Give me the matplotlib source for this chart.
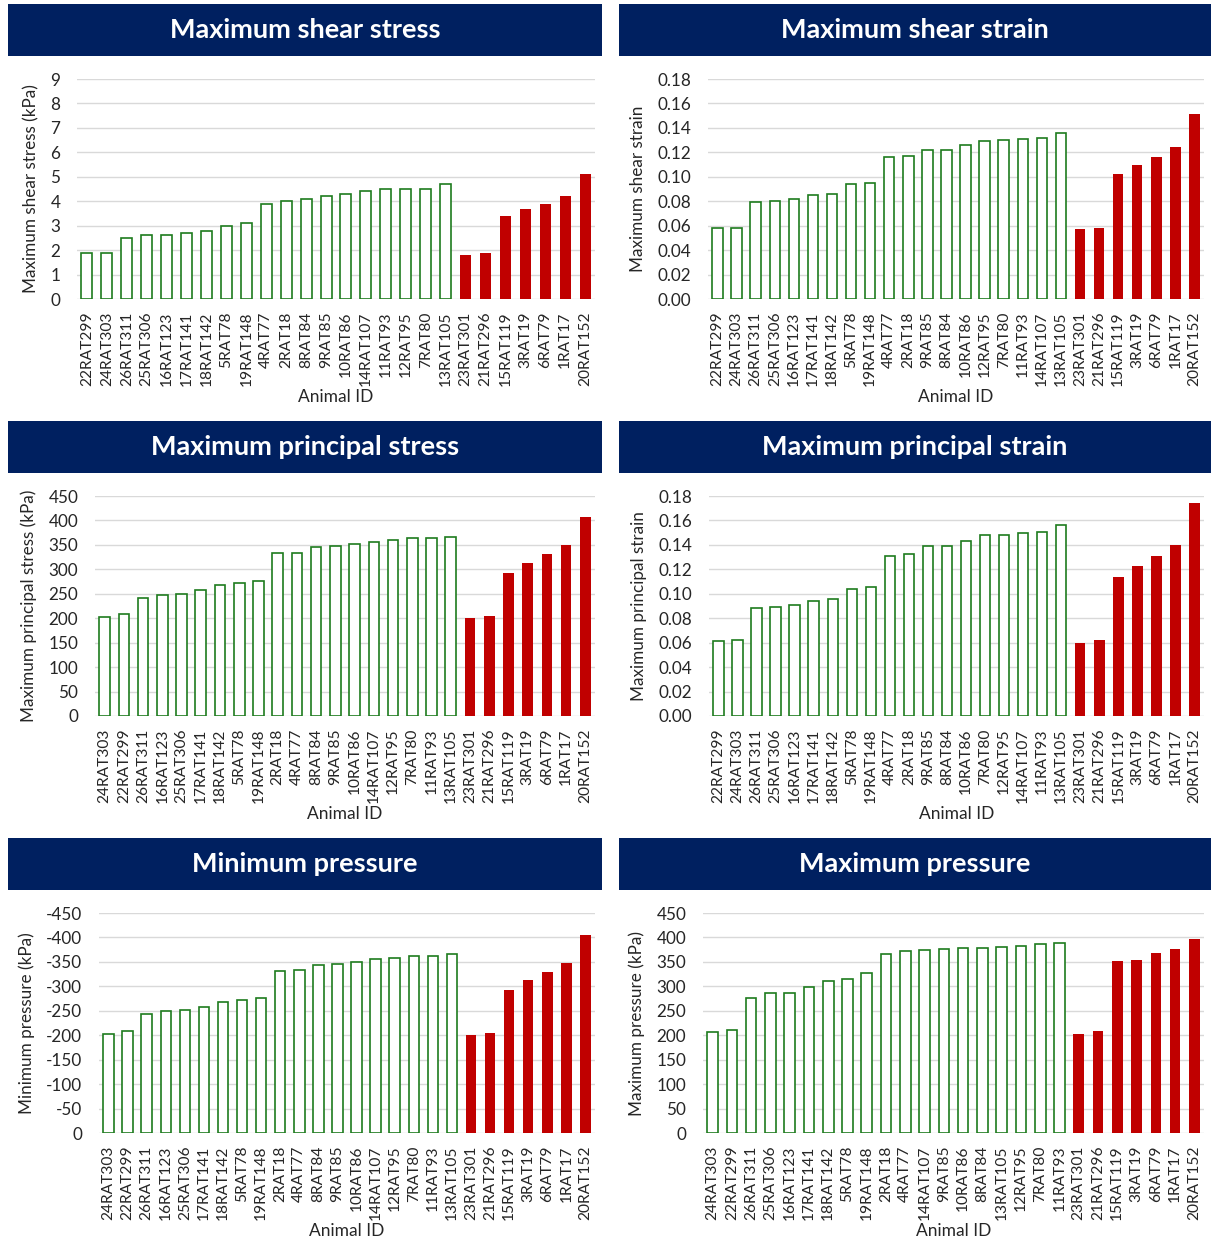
import numpy as np
from matplotlib import pyplot as plt
from matplotlib.ticker import FormatStrFormatter

plt.rcParams['font.family'] = ['Lato', 'DejaVu Sans']
plt.rcParams['axes.unicode_minus'] = False

# %%
# data
red_ids = ["23RAT301", "21RAT296", "15RAT119", "3RAT19", "6RAT79", "1RAT17", "20RAT152"]

shear_stress_ids = ["22RAT299", "24RAT303", "26RAT311", "25RAT306", "16RAT123", "17RAT141", "18RAT142",
                    "5RAT78", "19RAT148", "4RAT77", "2RAT18", "8RAT84", "9RAT85", "10RAT86", "14RAT107",
                    "11RAT93", "12RAT95", "7RAT80", "13RAT105"]
shear_stress_green = [1.9, 1.9, 2.5, 2.6, 2.6, 2.7, 2.8, 3.0, 3.1, 3.9, 4.0, 4.1, 4.2, 4.3, 4.4, 4.5, 4.5, 4.5, 4.7]
shear_stress_red = [1.8, 1.9, 3.4, 3.7, 3.9, 4.2, 5.1]

shear_strain_ids = ["22RAT299", "24RAT303", "26RAT311", "25RAT306", "16RAT123", "17RAT141", "18RAT142",
                    "5RAT78", "19RAT148", "4RAT77", "2RAT18", "9RAT85", "8RAT84", "10RAT86", "12RAT95",
                    "7RAT80", "11RAT93", "14RAT107", "13RAT105"]
shear_strain_green = [0.058, 0.058, 0.079, 0.080, 0.082, 0.085, 0.086, 0.094, 0.095, 0.116, 0.117, 0.122,
                      0.122, 0.126, 0.129, 0.130, 0.131, 0.132, 0.136]
shear_strain_red = [0.057, 0.058, 0.102, 0.110, 0.116, 0.124, 0.151]

princ_stress_ids = ["24RAT303", "22RAT299", "26RAT311", "16RAT123", "25RAT306", "17RAT141", "18RAT142",
                    "5RAT78", "19RAT148", "2RAT18", "4RAT77", "8RAT84", "9RAT85", "10RAT86", "14RAT107",
                    "12RAT95", "7RAT80", "11RAT93", "13RAT105"]
princ_stress_green = [203, 209, 242, 248, 250, 257, 268, 273, 277, 333, 334, 345, 347, 351, 356, 359, 364, 364, 367]
princ_stress_red = [201, 205, 293, 313, 331, 349, 408]

princ_strain_ids = ["22RAT299", "24RAT303", "26RAT311", "25RAT306", "16RAT123", "17RAT141", "18RAT142",
                    "5RAT78", "19RAT148", "4RAT77", "2RAT18", "9RAT85", "8RAT84", "10RAT86", "7RAT80",
                    "12RAT95", "14RAT107", "11RAT93", "13RAT105"]
princ_strain_green = [0.0615, 0.062, 0.0885, 0.0895, 0.091, 0.0945, 0.096, 0.104, 0.1055, 0.131, 0.1325,
                      0.1395, 0.1395, 0.1435, 0.148, 0.148, 0.150, 0.1505, 0.156]
princ_strain_red = [0.060, 0.062, 0.114, 0.123, 0.131, 0.140, 0.1745]

min_press_ids = princ_stress_ids
min_press_green = [-203, -208, -243, -249, -251, -257, -268, -273, -277, -332, -333, -344, -345, -350, -355,
                   -358, -362, -362, -366]
min_press_red = [-200, -205, -292, -312, -330, -348, -406]

max_press_ids = ["24RAT303", "22RAT299", "26RAT311", "25RAT306", "16RAT123", "17RAT141", "18RAT142",
                 "5RAT78", "19RAT148", "2RAT18", "4RAT77", "14RAT107", "9RAT85", "10RAT86", "8RAT84",
                 "13RAT105", "12RAT95", "7RAT80", "11RAT93"]
max_press_green = [207, 210, 276, 286, 286, 299, 310, 316, 327, 366, 373, 375, 377, 379, 379, 380, 382, 386, 388]
max_press_red = [203, 208, 352, 353, 368, 376, 396]

# %%
W, H = 1211, 1245
navy = "#002060"
green = "#1E7B1E"
red = "#C00000"
txt = "#262626"

fig = plt.figure(figsize=(W / 100, H / 100), dpi=100)


def px_rect(x0, y0, x1, y1):
    # pixel box (top-left origin) -> figure fraction
    return [x0 / W, 1 - y1 / H, (x1 - x0) / W, (y1 - y0) / H]


def banner(x0, y0, x1, y1, title):
    bax = fig.add_axes(px_rect(x0, y0, x1, y1))
    bax.set_facecolor(navy)
    bax.set_xticks([])
    bax.set_yticks([])
    for s in bax.spines.values():
        s.set_visible(False)
    bax.text(0.5, 0.5, title, color="white", fontsize=19.5, fontweight="bold",
             ha="center", va="center", transform=bax.transAxes)


def panel(box, ids, green_vals, red_vals, ylim, step, ylabel, fmt):
    ax = fig.add_axes(px_rect(*box))
    labels = ids + red_ids
    x = np.arange(len(labels))
    ng = len(green_vals)
    ax.bar(x[:ng], green_vals, width=0.55, facecolor="white", edgecolor=green, linewidth=1.2, zorder=3)
    ax.bar(x[ng:], red_vals, width=0.55, color=red, zorder=3)
    ax.set_xlim(-0.5, len(labels) - 0.5)
    ax.set_ylim(*ylim)
    lo, hi = sorted(ylim)
    ax.set_yticks(np.arange(lo, hi + step / 2, step))
    ax.yaxis.set_major_formatter(FormatStrFormatter(fmt))
    ax.set_xticks(x)
    ax.set_xticklabels(labels, rotation=90, fontsize=11.2, color=txt)
    ax.tick_params(axis="y", labelsize=12.3, labelcolor=txt, length=0, pad=12)
    ax.tick_params(axis="x", length=0, pad=9)
    ax.grid(axis="y", color="#D9D9D9", linewidth=1, zorder=0)
    for s in ax.spines.values():
        s.set_visible(False)
    ax.set_ylabel(ylabel, fontsize=12.3, color=txt, labelpad=8)
    ax.set_xlabel("Animal ID", fontsize=12.5, color=txt, labelpad=2)
    return ax


# row 1
banner(8, 4, 602, 56, "Maximum shear stress")
banner(619, 4, 1211, 56, "Maximum shear strain")
panel((77, 79, 595, 299), shear_stress_ids, shear_stress_green, shear_stress_red,
      (0, 9), 1, "Maximum shear stress (kPa)", "%d")
panel((708, 79, 1204, 299), shear_strain_ids, shear_strain_green, shear_strain_red,
      (0, 0.18), 0.02, "Maximum shear strain", "%.2f")

# row 2
banner(8, 421, 602, 473, "Maximum principal stress")
banner(619, 421, 1211, 473, "Maximum principal strain")
panel((95, 496, 595, 716), princ_stress_ids, princ_stress_green, princ_stress_red,
      (0, 450), 50, "Maximum principal stress (kPa)", "%d")
panel((709, 496, 1204, 716), princ_strain_ids, princ_strain_green, princ_strain_red,
      (0, 0.18), 0.02, "Maximum principal strain", "%.2f")

# row 3
banner(8, 838, 602, 890, "Minimum pressure")
banner(619, 838, 1211, 890, "Maximum pressure")
panel((99, 913, 595, 1133), min_press_ids, min_press_green, min_press_red,
      (0, -450), 50, "Minimum pressure (kPa)", "%d")
panel((703, 913, 1204, 1133), max_press_ids, max_press_green, max_press_red,
      (0, 450), 50, "Maximum pressure (kPa)", "%d")

fig.savefig("out.png", dpi=100, facecolor="white")
